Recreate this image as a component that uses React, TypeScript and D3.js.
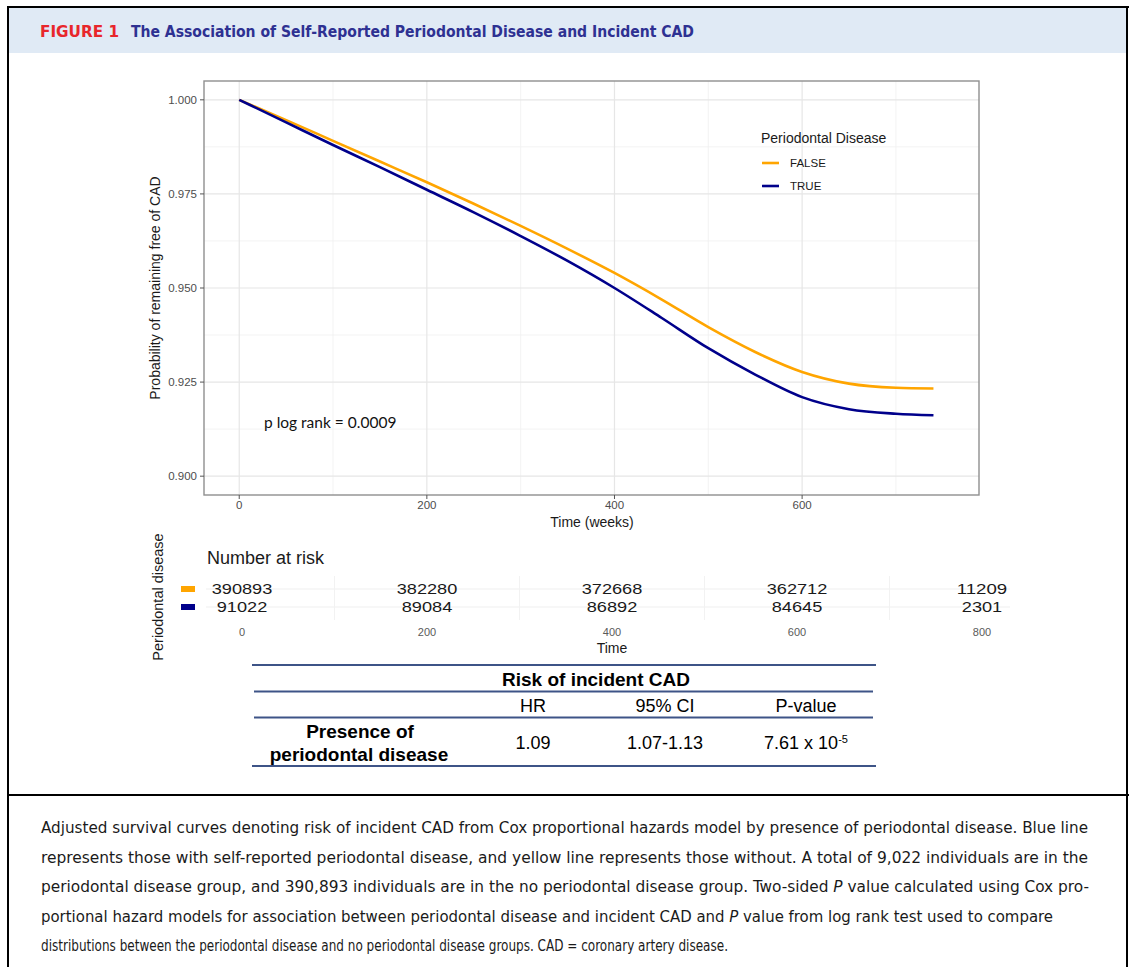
import React from 'react';
import * as d3 from 'd3';

// survival curves (weeks vs probability)
const timeWeeks = [0, 50, 100, 150, 200, 250, 300, 350, 400, 450, 500, 550, 600, 650, 700, 740];
const survFalse = [1.0, 0.9946, 0.9891, 0.9836, 0.9781, 0.9724, 0.9665, 0.9604, 0.954, 0.947, 0.9396, 0.933, 0.9277, 0.9246, 0.9235, 0.9233];
const survTrue = [1.0, 0.994, 0.988, 0.9821, 0.9761, 0.9701, 0.9638, 0.9572, 0.95, 0.9421, 0.934, 0.927, 0.921, 0.9178, 0.9166, 0.9162];

const groupNames = ['FALSE', 'TRUE'];
const groupColors = ['#FFA500', '#00008B'];

const yTicks = [0.9, 0.925, 0.95, 0.975, 1.0];
const yMinor = [0.9125, 0.9375, 0.9625, 0.9875];
const xTicks = [0, 200, 400, 600];
const xMinor = [100, 300, 500, 700];

// number at risk table
const riskTimes = [0, 200, 400, 600, 800];
const riskMinor = [100, 300, 500, 700];
const riskFalse = [390893, 382280, 372668, 362712, 11209];
const riskTrue = [91022, 89084, 86892, 84645, 2301];

// cox model table
const tableHeader = ['HR', '95% CI', 'P-value'];
const tableRow = ['1.09', '1.07-1.13'];

const captionLines = [
  'Adjusted survival curves denoting risk of incident CAD from Cox proportional hazards model by presence of periodontal disease. Blue line',
  'represents those with self-reported periodontal disease, and yellow line represents those without. A total of 9,022 individuals are in the',
  'periodontal disease group, and 390,893 individuals are in the no periodontal disease group. Two-sided |P| value calculated using Cox pro-',
  'portional hazard models for association between periodontal disease and incident CAD and |P| value from log rank test used to compare',
  'distributions between the periodontal disease and no periodontal disease groups. CAD = coronary artery disease.',
];
const captionWidths = [1047, 1047, 1048, 1012, 687];

const W = 1129;
const H = 967;
const sans = 'Liberation Sans, Arial, sans-serif';
const narrow = 'Liberation Sans Narrow, DejaVu Sans Condensed, Roboto, sans-serif';
const navyLine = '#3e5487';

export default function App() {
  const panel = { left: 204, right: 979, top: 81, bottom: 495 };
  const x = d3.scaleLinear().domain([-37.55, 788.55]).range([panel.left, panel.right]);
  const y = d3.scaleLinear().domain([0.895, 1.005]).range([panel.bottom, panel.top]);
  const xr = d3.scaleLinear().domain([0, 800]).range([242, 982]);

  const line = d3
    .line<number>()
    .x((_, i) => x(timeWeeks[i]))
    .y((d) => y(d))
    .curve(d3.curveMonotoneX);

  const series = [survFalse, survTrue];
  const riskRows = [riskFalse, riskTrue];
  const riskY = [589, 607];
  const tableCols = [533, 665, 806];

  return (
    <svg width={W} height={H} style={{ position: 'absolute', left: 0, top: 0, background: '#fff' }}>
      {/* frame and header */}
      <rect x={8} y={7} width={1119} height={46} fill="#e0eaf5" />
      <line x1={8} x2={8} y1={6} y2={H} stroke="#000" strokeWidth={2} />
      <line x1={7} x2={W} y1={7} y2={7} stroke="#000" strokeWidth={2} />
      <line x1={1127} x2={1127} y1={6} y2={H} stroke="#000" strokeWidth={2} />
      <line x1={7} x2={W} y1={795} y2={795} stroke="#000" strokeWidth={2} />
      <text x={40} y={37} fontFamily={narrow} fontWeight="bold" fontSize={15} fill="#e8262b" textLength={79} lengthAdjust="spacingAndGlyphs">
        FIGURE 1
      </text>
      <text x={131} y={37} fontFamily={narrow} fontWeight="bold" fontSize={15.5} fill="#2e3192" textLength={563} lengthAdjust="spacingAndGlyphs">
        The Association of Self-Reported Periodontal Disease and Incident CAD
      </text>

      {/* survival panel */}
      <g>
        {yMinor.map((v) => (
          <line key={'ym' + v} x1={panel.left} x2={panel.right} y1={y(v)} y2={y(v)} stroke="#f0f0f0" strokeWidth={0.8} />
        ))}
        {xMinor.map((v) => (
          <line key={'xm' + v} x1={x(v)} x2={x(v)} y1={panel.top} y2={panel.bottom} stroke="#f0f0f0" strokeWidth={0.8} />
        ))}
        {yTicks.map((v) => (
          <line key={'yg' + v} x1={panel.left} x2={panel.right} y1={y(v)} y2={y(v)} stroke="#e6e6e6" strokeWidth={1.2} />
        ))}
        {xTicks.map((v) => (
          <line key={'xg' + v} x1={x(v)} x2={x(v)} y1={panel.top} y2={panel.bottom} stroke="#e6e6e6" strokeWidth={1.2} />
        ))}
        {series.map((s, i) => (
          <path key={groupNames[i]} d={line(s) || ''} fill="none" stroke={groupColors[i]} strokeWidth={2.6} />
        ))}
        <rect x={panel.left} y={panel.top} width={panel.right - panel.left} height={panel.bottom - panel.top} fill="none" stroke="#8f8f8f" strokeWidth={1.4} />
        {yTicks.map((v) => (
          <g key={'yt' + v}>
            <line x1={panel.left - 4} x2={panel.left} y1={y(v)} y2={y(v)} stroke="#555" />
            <text x={panel.left - 7} y={y(v)} dy="0.35em" textAnchor="end" fontFamily={sans} fontSize={11.5} fill="#4d4d4d">
              {d3.format('.3f')(v)}
            </text>
          </g>
        ))}
        {xTicks.map((v) => (
          <g key={'xt' + v}>
            <line x1={x(v)} x2={x(v)} y1={panel.bottom} y2={panel.bottom + 4} stroke="#555" />
            <text x={x(v)} y={509} textAnchor="middle" fontFamily={sans} fontSize={11.5} fill="#4d4d4d">
              {v}
            </text>
          </g>
        ))}
        <text x={592} y={527} textAnchor="middle" fontFamily={sans} fontSize={14} fill="#1a1a1a">
          Time (weeks)
        </text>
        <text transform="translate(160,288) rotate(-90)" textAnchor="middle" fontFamily={sans} fontSize={14} fill="#1a1a1a">
          Probability of remaining free of CAD
        </text>
        <text x={264} y={428} fontFamily="Lato, Open Sans, sans-serif" fontSize={15.5} fill="#111">
          p log rank = 0.0009
        </text>

        {/* legend */}
        <text x={761} y={143} fontFamily={sans} fontSize={14} fill="#1a1a1a">
          Periodontal Disease
        </text>
        {groupNames.map((g, i) => (
          <g key={'lg' + g}>
            <line x1={762} x2={779} y1={163 + i * 23} y2={163 + i * 23} stroke={groupColors[i]} strokeWidth={2.6} />
            <text x={790} y={163 + i * 23} dy="0.36em" fontFamily={sans} fontSize={11.5} fill="#1a1a1a">
              {g}
            </text>
          </g>
        ))}
      </g>

      {/* number at risk */}
      <g>
        {riskY.map((ry) => (
          <line key={'rh' + ry} x1={206} x2={1010} y1={ry} y2={ry} stroke="#f0f0f0" strokeWidth={1.2} />
        ))}
        {riskMinor.map((v) => (
          <line key={'rv' + v} x1={xr(v)} x2={xr(v)} y1={576} y2={620} stroke="#f2f2f2" strokeWidth={1} />
        ))}
        <text x={207} y={564} fontFamily={sans} fontSize={18} fill="#1a1a1a">
          Number at risk
        </text>
        {riskRows.map((row, i) => (
          <g key={'rr' + i}>
            <rect x={181} y={riskY[i] - 3} width={14} height={6} fill={groupColors[i]} />
            {row.map((n, j) => (
              <text
                key={j}
                x={xr(riskTimes[j])}
                y={riskY[i]}
                dy="0.36em"
                textAnchor="middle"
                fontFamily={sans}
                fontSize={15}
                fill="#1a1a1a"
                textLength={String(n).length * 10.1}
                lengthAdjust="spacingAndGlyphs"
              >
                {n}
              </text>
            ))}
          </g>
        ))}
        {riskTimes.map((v) => (
          <text key={'rt' + v} x={xr(v)} y={636} textAnchor="middle" fontFamily={sans} fontSize={11} fill="#5a5a5a">
            {v}
          </text>
        ))}
        <text x={xr(400)} y={653} textAnchor="middle" fontFamily={sans} fontSize={14} fill="#1a1a1a">
          Time
        </text>
        <text transform="translate(163,597) rotate(-90)" textAnchor="middle" fontFamily={sans} fontSize={14.5} fill="#1a1a1a">
          Periodontal disease
        </text>
      </g>

      {/* hazard ratio table */}
      <g fontFamily={sans} fill="#000">
        <line x1={252} x2={876} y1={665} y2={665} stroke={navyLine} strokeWidth={2} />
        <line x1={254} x2={873} y1={691.5} y2={691.5} stroke={navyLine} strokeWidth={2} />
        <line x1={254} x2={873} y1={717.5} y2={717.5} stroke={navyLine} strokeWidth={2} />
        <line x1={252} x2={876} y1={766} y2={766} stroke={navyLine} strokeWidth={2} />
        <text x={596} y={679} dy="0.36em" textAnchor="middle" fontWeight="bold" fontSize={19}>
          Risk of incident CAD
        </text>
        {tableHeader.map((h, i) => (
          <text key={h} x={tableCols[i]} y={706} dy="0.36em" textAnchor="middle" fontSize={18}>
            {h}
          </text>
        ))}
        <text x={360} y={731} dy="0.36em" textAnchor="middle" fontWeight="bold" fontSize={19}>
          Presence of
        </text>
        <text x={359} y={754} dy="0.36em" textAnchor="middle" fontWeight="bold" fontSize={19}>
          periodontal disease
        </text>
        {tableRow.map((v, i) => (
          <text key={v} x={tableCols[i]} y={743} dy="0.36em" textAnchor="middle" fontSize={18}>
            {v}
          </text>
        ))}
        <text x={tableCols[2]} y={743} dy="0.36em" textAnchor="middle" fontSize={18}>
          7.61 x 10<tspan fontSize={11} dy="-0.55em">-5</tspan>
        </text>
      </g>

      {/* caption */}
      <g fontFamily={narrow} fontSize={16} fill="#1a1a1a">
        {captionLines.map((ln, i) => (
          <text key={i} x={41} y={833 + i * 29.5} textLength={captionWidths[i]} lengthAdjust="spacingAndGlyphs">
            {ln.split('|').map((part, k) => (
              <tspan key={k} fontStyle={k % 2 === 1 ? 'italic' : 'normal'}>
                {part}
              </tspan>
            ))}
          </text>
        ))}
      </g>
    </svg>
  );
}
